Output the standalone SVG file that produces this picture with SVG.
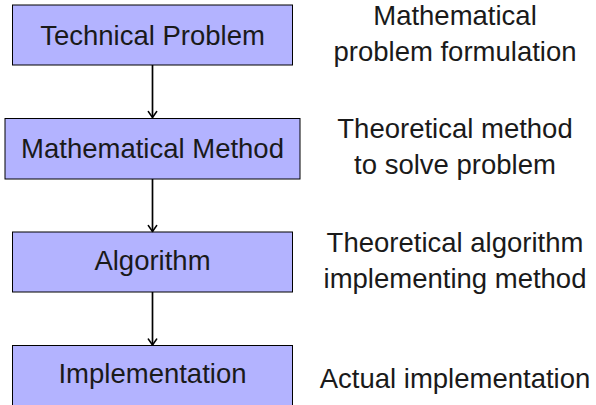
<svg xmlns="http://www.w3.org/2000/svg" width="596" height="405" viewBox="0 0 596 405">
<style>
.box{fill:#b3b3ff;stroke:#000;stroke-width:1}
.t{font-family:"Liberation Sans",Arial,sans-serif;font-size:27.5px;fill:#1a1a1a;text-anchor:middle}
.c{stroke:#000;stroke-width:1.7;fill:none}
.h{stroke:#000;stroke-width:1.5;fill:none;stroke-linecap:round;stroke-linejoin:round}
</style>
<rect width="596" height="405" fill="#fff"/>
<g id="n1"><rect class="box" x="12.5" y="5" width="280" height="60"/><text class="t" x="152.5" y="45">Technical Problem</text></g>
<g id="n2"><rect class="box" x="5" y="118.5" width="295" height="60.5"/><text class="t" x="152.5" y="158">Mathematical Method</text></g>
<g id="n3"><rect class="box" x="12.5" y="232" width="280" height="60"/><text class="t" x="152.5" y="270">Algorithm</text></g>
<g id="n4"><rect class="box" x="12.5" y="345.5" width="280" height="62"/><text class="t" x="152.5" y="383">Implementation</text></g>
<g id="connectors">
<path class="c" d="M152.5 65V117.5"/><path class="h" d="M148.3 111.5L152.5 117.5L156.7 111.5"/>
<path class="c" d="M152.5 179V231.5"/><path class="h" d="M148.3 225.5L152.5 231.5L156.7 225.5"/>
<path class="c" d="M152.5 292V345"/><path class="h" d="M148.3 339L152.5 345L156.7 339"/>
</g>
<g id="notes">
<text class="t" x="455" y="25">Mathematical</text>
<text class="t" x="455" y="61">problem formulation</text>
<text class="t" x="455" y="138">Theoretical method</text>
<text class="t" x="455" y="174">to solve problem</text>
<text class="t" x="455" y="252">Theoretical algorithm</text>
<text class="t" x="455" y="288">implementing method</text>
<text class="t" x="455" y="388">Actual implementation</text>
</g>
</svg>
